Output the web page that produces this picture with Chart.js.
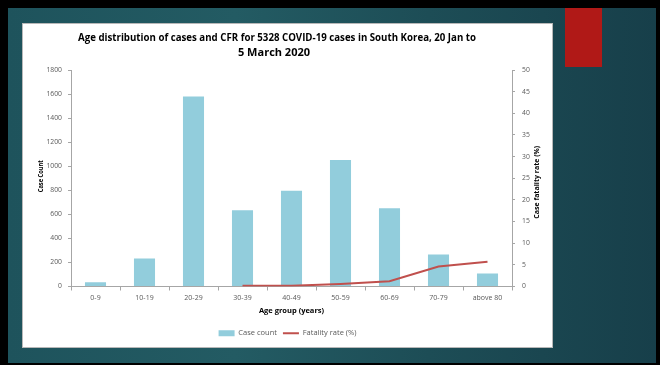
<!DOCTYPE html>
<html>
<head>
<meta charset="utf-8">
<script src="https://cdn.jsdelivr.net/npm/chart.js@4/dist/chart.umd.min.js"></script>
<style>
  html, body { margin: 0; padding: 0; }
  body { width: 660px; height: 365px; background: #000; position: relative; overflow: hidden; }
  #slide {
    position: absolute; left: 8px; top: 8px; width: 648px; height: 355px;
    background: linear-gradient(90deg, #1e535c 0%, #235b63 35%, #1d4d56 65%, #173f4a 100%);
  }
  #accent { position: absolute; left: 565px; top: 8px; width: 37px; height: 59px; background: #b01917; }
  #panel {
    position: absolute; left: 23px; top: 24px; width: 529px; height: 323px;
    background: #fff; box-shadow: 0 0 0 1px #b8b8b8;
  }
  #panel canvas { display: block; }
</style>
</head>
<body>
<div id="slide"></div>
<div id="accent"></div>
<div id="panel"><canvas id="ageChart" width="529" height="323"></canvas></div>
<script>
var ageGroups = ["0-9", "10-19", "20-29", "30-39", "40-49", "50-59", "60-69", "70-79", "above 80"];
var caseCounts = [35, 233, 1580, 633, 796, 1052, 650, 266, 108];
var fatalityRates = [null, null, null, 0.2, 0.15, 0.6, 1.2, 4.6, 5.7];
var titleLines = ["Age distribution of cases and CFR for 5328 COVID-19 cases in South Korea, 20 Jan to", "5 March 2020"];

var textFont = "'Open Sans', 'Liberation Sans', sans-serif";
var tickColor = "#595959";
var axisColor = "#a6a6a6";

// titles drawn by hand: the right axis label reads bottom-to-top like the left one
var titlesPlugin = {
  id: "titles",
  afterDraw: function(chart) {
    var ctx = chart.ctx;
    var area = chart.chartArea;
    ctx.save();
    ctx.fillStyle = "#000";
    ctx.textAlign = "center";
    ctx.textBaseline = "middle";
    ctx.font = "bold 11px " + textFont;
    ctx.fillText(titleLines[0], 254, 14, 398);
    ctx.fillText(titleLines[1], 251, 29, 79);

    ctx.font = "bold 7px " + textFont;
    var midY = (area.top + area.bottom) / 2;
    ctx.translate(18, midY - 2);
    ctx.rotate(-Math.PI / 2);
    ctx.fillText("Case Count", 0, 0, 32);
    ctx.restore();

    ctx.save();
    ctx.fillStyle = "#000";
    ctx.textAlign = "center";
    ctx.textBaseline = "middle";
    ctx.font = "bold 7px " + textFont;
    ctx.translate(514, midY + 4);
    ctx.rotate(-Math.PI / 2);
    ctx.fillText("Case fatality rate (%)", 0, 0, 84);
    ctx.restore();
  }
};

function plainTick(value) { return String(value); }

new Chart(document.getElementById("ageChart"), {
  type: "bar",
  data: {
    labels: ageGroups,
    datasets: [{
      type: "line",
      label: "Fatality rate (%)",
      data: fatalityRates,
      yAxisID: "y1",
      borderColor: "#c0504d",
      backgroundColor: "#c0504d",
      borderWidth: 2,
      pointRadius: 0,
      tension: 0,
      order: 0
    }, {
      type: "bar",
      label: "Case count",
      data: caseCounts,
      yAxisID: "y",
      backgroundColor: "#92cddc",
      borderWidth: 0,
      barPercentage: 0.43,
      categoryPercentage: 1,
      order: 1
    }]
  },
  options: {
    responsive: false,
    animation: false,
    layout: { padding: { top: 46, right: 0, bottom: 0, left: 0 } },
    plugins: {
      title: { display: false },
      tooltip: { enabled: false },
      legend: {
        position: "bottom",
        reverse: true,
        labels: {
          usePointStyle: true,
          pointStyleWidth: 16,
          boxHeight: 6,
          padding: 6,
          color: tickColor,
          font: { size: 7.5, family: textFont },
          generateLabels: function(chart) {
            var items = Chart.defaults.plugins.legend.labels.generateLabels(chart);
            items.forEach(function(item) {
              var ds = chart.data.datasets[item.datasetIndex];
              item.pointStyle = ds.type === "line" ? "line" : "rect";
              if (ds.type !== "line") item.lineWidth = 0;
            });
            return items;
          }
        }
      }
    },
    scales: {
      x: {
        offset: true,
        afterFit: function(scale) { scale.height = 37; },
        grid: { display: true, offset: true, drawOnChartArea: false, tickLength: 4, color: axisColor },
        border: { display: true, color: axisColor },
        ticks: { color: tickColor, padding: 3, font: { size: 7, family: textFont } },
        title: {
          display: true,
          text: "Age group (years)",
          color: "#000",
          font: { size: 7.5, weight: "bold", family: textFont },
          padding: { top: 0, bottom: 8.5 }
        }
      },
      y: {
        position: "left",
        min: 0, max: 1800,
        afterFit: function(scale) { scale.width = 48; },
        grid: { display: true, drawOnChartArea: false, tickLength: 3, color: axisColor },
        border: { display: true, color: axisColor },
        ticks: { stepSize: 200, callback: plainTick, color: tickColor, padding: 6, font: { size: 6.8, family: textFont } }
      },
      y1: {
        position: "right",
        min: 0, max: 50,
        afterFit: function(scale) { scale.width = 40; },
        grid: { display: true, drawOnChartArea: false, tickLength: 3, color: axisColor },
        border: { display: true, color: axisColor },
        ticks: { stepSize: 5, callback: plainTick, color: tickColor, padding: 7, font: { size: 6.8, family: textFont } }
      }
    }
  },
  plugins: [titlesPlugin]
});
</script>
</body>
</html>
